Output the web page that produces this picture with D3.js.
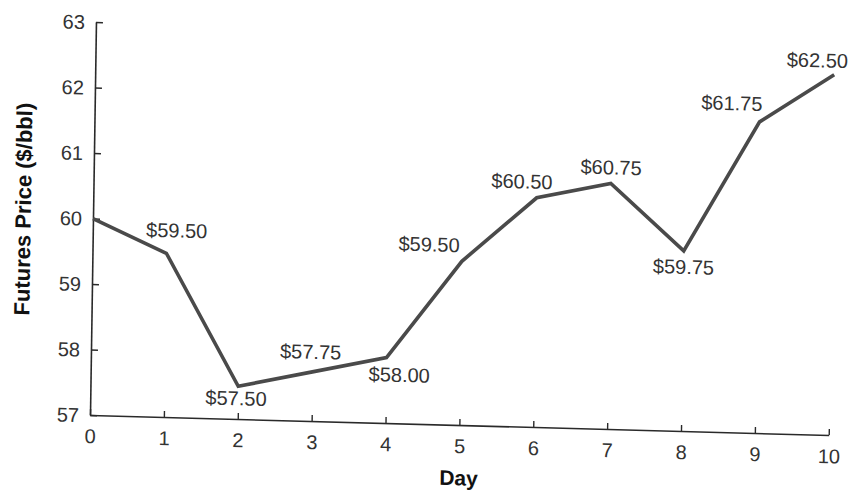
<!DOCTYPE html>
<html><head><meta charset="utf-8">
<script src="https://cdn.jsdelivr.net/npm/d3@7"></script>
<style>body{margin:0;background:#fff}svg{display:block}</style>
</head><body><svg id="chart" width="862" height="493"></svg>
<script>
// ---- data ----
const days = [0, 1, 2, 3, 4, 5, 6, 7, 8, 9, 10];
const prices = [60.00, 59.50, 57.50, 57.75, 58.00, 59.50, 60.50, 60.75, 59.75, 61.75, 62.50];
const priceLabels = ["", "$59.50", "$57.50", "$57.75", "$58.00", "$59.50", "$60.50", "$60.75", "$59.75", "$61.75", "$62.50"];
const xTicks = [0, 1, 2, 3, 4, 5, 6, 7, 8, 9, 10];
const yTicks = [57, 58, 59, 60, 61, 62, 63];
const xTitle = "Day";
const yTitle = "Futures Price ($/bbl)";

// ---- label placement (px offsets from point) ----
const labelOffsets = [[0,0],[10,-23],[-2,12],[-2,-20],[13,17],[-33,-16],[-15,-16],[0,-16],[0,16],[-28,-18],[-17,-14]];

const FONT = "'Liberation Sans', Arial, Helvetica, sans-serif";
const svg = d3.select("#chart");
svg.append("rect").attr("width", 862).attr("height", 493).attr("fill", "#fff");

// slight tilt like the scanned original
const a = Math.cos(1.55 * Math.PI / 180), b = Math.sin(1.55 * Math.PI / 180);
const c = -Math.sin(0.87 * Math.PI / 180), d = Math.cos(0.87 * Math.PI / 180);
const g = svg.append("g").attr("transform", `matrix(${a},${b},${c},${d},90,415)`);

const x = d3.scaleLinear().domain([0, 10]).range([0, 739]);
const y = d3.scaleLinear().domain([57, 63]).range([0, -393]);

const axisColor = "#2a2a2a";
const textColor = "#333";

const gx = g.append("g")
  .call(d3.axisBottom(x).tickValues(xTicks).tickFormat(d3.format("d")).tickSize(-6).tickSizeOuter(0).tickPadding(14));
const gy = g.append("g")
  .call(d3.axisLeft(y).tickValues(yTicks).tickFormat(d3.format("d")).tickSize(-7).tickSizeOuter(0).tickPadding(11));

[gx, gy].forEach(ax => {
  ax.select(".domain").attr("stroke", axisColor).attr("stroke-width", 1.6);
  ax.selectAll(".tick line").attr("stroke", axisColor).attr("stroke-width", 1.4);
  ax.selectAll(".tick text").attr("fill", textColor).style("font-family", FONT).style("font-size", "20px");
});
gy.selectAll(".tick text").attr("dy", "0.34em");

// line
const pts = days.map((dd, i) => ({ day: dd, price: prices[i], label: priceLabels[i], off: labelOffsets[i] }));
const line = d3.line().x(p => x(p.day)).y(p => y(p.price));
g.append("path").datum(pts)
  .attr("d", line)
  .attr("fill", "none")
  .attr("stroke", "#4a4a4a")
  .attr("stroke-width", 3.6)
  .attr("stroke-linejoin", "miter");

// data labels
g.append("g").selectAll("text")
  .data(pts.filter(p => p.label))
  .join("text")
  .attr("x", p => x(p.day) + p.off[0])
  .attr("y", p => y(p.price) + p.off[1])
  .attr("dy", "0.35em")
  .attr("text-anchor", "middle")
  .attr("fill", textColor)
  .style("font-family", FONT)
  .style("font-size", "20px")
  .text(p => p.label);

// axis titles
g.append("text")
  .attr("x", (x(0) + x(10)) / 2)
  .attr("y", 53)
  .attr("dy", "0.35em")
  .attr("text-anchor", "middle")
  .attr("fill", "#111")
  .style("font-family", FONT)
  .style("font-size", "21px")
  .style("font-weight", "bold")
  .text(xTitle);

g.append("text")
  .attr("transform", `translate(-70,-204) rotate(-90)`)
  .attr("dy", "0.35em")
  .attr("text-anchor", "middle")
  .attr("fill", "#111")
  .style("font-family", FONT)
  .style("font-size", "22px")
  .style("font-weight", "bold")
  .text(yTitle);
</script>
</body></html>
